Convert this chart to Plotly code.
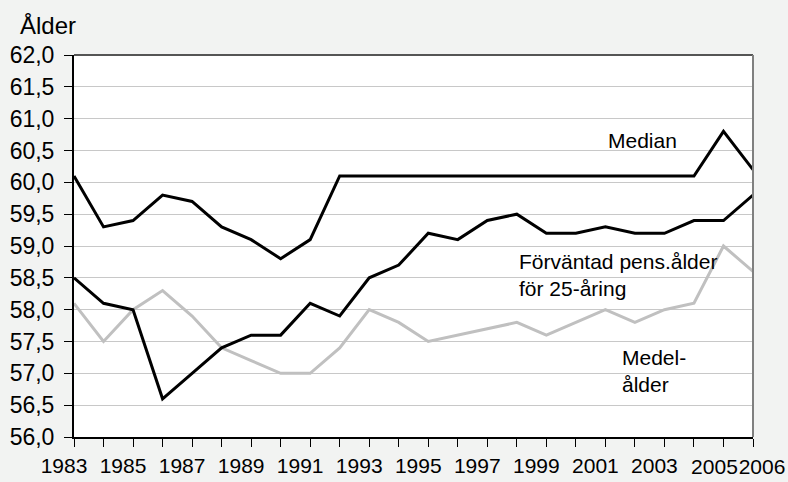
import plotly.graph_objects as go

years = list(range(1983, 2007))
median = [60.1, 59.3, 59.4, 59.8, 59.7, 59.3, 59.1, 58.8, 59.1, 60.1, 60.1, 60.1,
          60.1, 60.1, 60.1, 60.1, 60.1, 60.1, 60.1, 60.1, 60.1, 60.1, 60.8, 60.2]
forvantad = [58.5, 58.1, 58.0, 56.6, 57.0, 57.4, 57.6, 57.6, 58.1, 57.9, 58.5, 58.7,
             59.2, 59.1, 59.4, 59.5, 59.2, 59.2, 59.3, 59.2, 59.2, 59.4, 59.4, 59.8]
medel = [58.1, 57.5, 58.0, 58.3, 57.9, 57.4, 57.2, 57.0, 57.0, 57.4, 58.0, 57.8,
         57.5, 57.6, 57.7, 57.8, 57.6, 57.8, 58.0, 57.8, 58.0, 58.1, 59.0, 58.6]
x_tick_years = [1983, 1985, 1987, 1989, 1991, 1993, 1995, 1997, 1999, 2001, 2003]
x_tick_labels = [str(y) for y in x_tick_years]
x_tick_years_b = [2005]
x_tick_years_c = [2006]
y_ticks = [56.0 + 0.5 * i for i in range(13)]

FONT = "Liberation Sans, Arial, sans-serif"

fig = go.Figure()
fig.add_trace(go.Scatter(x=years, y=medel, mode="lines", name="Medelålder",
                         line=dict(color="#c0c0c0", width=3)))
fig.add_trace(go.Scatter(x=years, y=forvantad, mode="lines", name="Förväntad",
                         line=dict(color="#000000", width=3)))
fig.add_trace(go.Scatter(x=years, y=median, mode="lines", name="Median",
                         line=dict(color="#000000", width=3)))
# invisible helper traces so the label-only overlay axes are drawn
fig.add_trace(go.Scatter(x=years, y=median, mode="lines", xaxis="x2", opacity=0,
                         hoverinfo="skip", line=dict(width=0)))
fig.add_trace(go.Scatter(x=years, y=median, mode="lines", xaxis="x3", opacity=0,
                         hoverinfo="skip", line=dict(width=0)))

fig.update_layout(
    width=788, height=482,
    margin=dict(l=74, r=35, t=55, b=45),
    paper_bgcolor="#f2f3f2",
    plot_bgcolor="#ffffff",
    showlegend=False,
    separators=", ",
    font=dict(family=FONT, size=22, color="#000000"),
)

label_axis = dict(range=[1983, 2006], tickangle=0, automargin=False,
                  ticks="", ticklabelstandoff=4, showgrid=False, zeroline=False,
                  showline=False, tickfont=dict(size=21))

fig.update_layout(
    xaxis=dict(
        label_axis,
        tickvals=x_tick_years, ticktext=x_tick_labels,
        ticks="outside", ticklen=8, tickwidth=1, tickcolor="#000000",
        minor=dict(dtick=1, tick0=1983, ticks="outside", ticklen=8, tickwidth=1,
                   tickcolor="#000000", showgrid=False),
        ticklabelshift=-10, ticklabelstandoff=1,
        showline=True, linecolor="#000000", linewidth=2,
    ),
    xaxis2=dict(label_axis, overlaying="x", matches="x",
                tickvals=x_tick_years_b, ticktext=[str(y) for y in x_tick_years_b],
                ticklabelshift=-9, ticklabelstandoff=15),
    xaxis3=dict(label_axis, overlaying="x", matches="x",
                tickvals=x_tick_years_c, ticktext=[str(y) for y in x_tick_years_c],
                ticklabelshift=9, ticklabelstandoff=15),
)
fig.update_yaxes(
    range=[56, 62],
    tickvals=y_ticks, tickformat=".1f", automargin=False,
    ticks="outside", ticklen=8, tickwidth=1, tickcolor="#000000",
    ticklabelstandoff=5,
    showgrid=True, gridcolor="#c8c8c8", gridwidth=1,
    zeroline=False,
    showline=True, linecolor="#000000", linewidth=2,
    tickfont=dict(size=23),
)

# plot-area border (top / right)
fig.add_shape(type="line", xref="paper", yref="paper", x0=0, x1=1, y0=1, y1=1,
              line=dict(color="#555555", width=2))
fig.add_shape(type="line", xref="paper", yref="paper", x0=1, x1=1, y0=0, y1=1,
              line=dict(color="#808080", width=2))

fig.add_annotation(text="Ålder", xref="paper", yref="paper", x=-0.083, y=1.078,
                   xanchor="left", yanchor="middle", showarrow=False,
                   font=dict(size=24))
fig.add_annotation(text="Median", x=2002.26, y=60.66, xanchor="center", yanchor="middle",
                   showarrow=False, font=dict(size=21))
fig.add_annotation(text="Förväntad pens.ålder<br>för 25-åring", x=1998.0, y=58.54,
                   xanchor="left", yanchor="middle", align="left",
                   showarrow=False, font=dict(size=21))
fig.add_annotation(text="Medel-<br>ålder", x=2001.5, y=57.03,
                   xanchor="left", yanchor="middle", align="left",
                   showarrow=False, font=dict(size=21))

fig.write_html("out.html", config={"displayModeBar": False})
with open("out.html", "r", encoding="utf-8") as f:
    html = f.read()
html = html.replace("<body>", '<body style="margin:0;padding:0;">', 1)
with open("out.html", "w", encoding="utf-8") as f:
    f.write(html)
